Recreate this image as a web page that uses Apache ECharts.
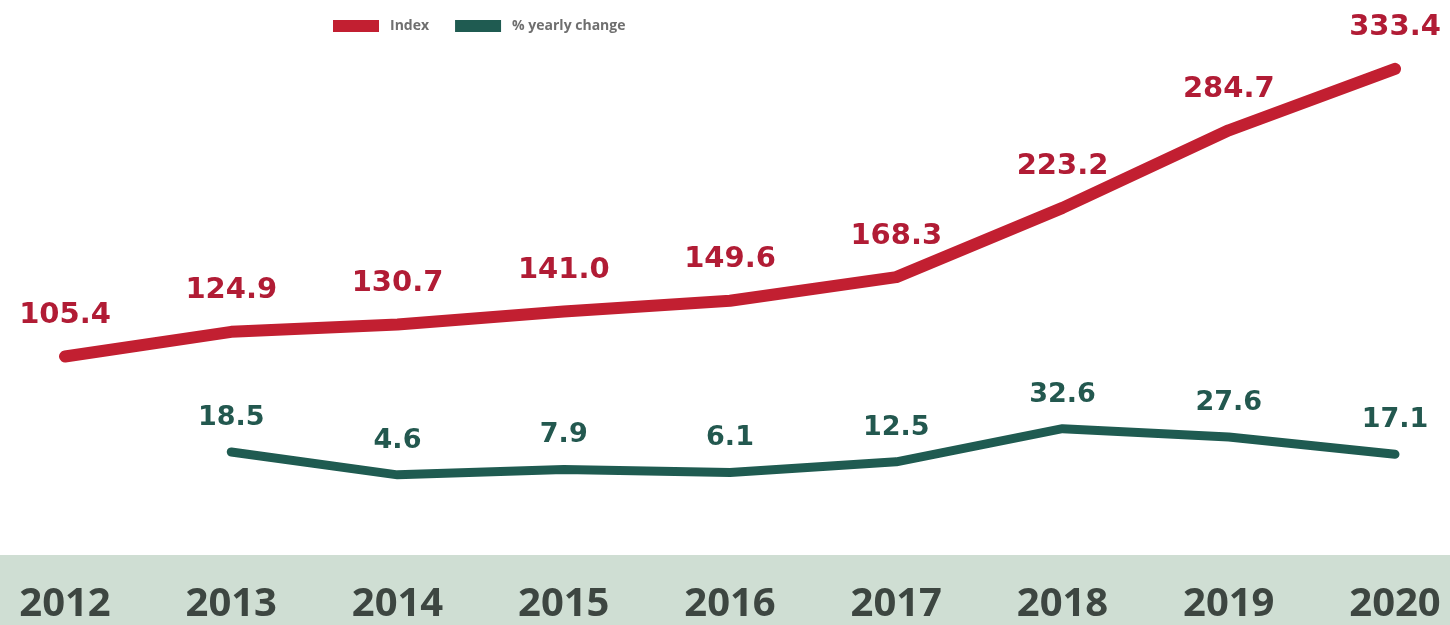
<!DOCTYPE html>
<html><head><meta charset="utf-8">
<script src="https://cdn.jsdelivr.net/npm/echarts@6/dist/echarts.min.js"></script>
<style>html,body{margin:0;padding:0;background:#fff}#c{width:1450px;height:625px}</style>
</head><body><div id="c"></div>
<script>
const years = ['2012','2013','2014','2015','2016','2017','2018','2019','2020'];
const indexValues = [105.4,124.9,130.7,141.0,149.6,168.3,223.2,284.7,333.4];
const yearlyChange = [null,18.5,4.6,7.9,6.1,12.5,32.6,27.6,17.1];

const chart = echarts.init(document.getElementById('c'));
chart.setOption({
  animation:false,
  backgroundColor:'#ffffff',
  graphic:[{type:'rect',left:0,top:555,shape:{width:1450,height:70},style:{fill:'#cfded3'},z:-10}],
  legend:{
    left:328, top:14, itemWidth:46, itemHeight:12, itemGap:26,
    icon:'rect',
    itemStyle:{borderWidth:0},
    lineStyle:{width:0},
    textStyle:{color:'#6f6f6f',fontSize:14,fontFamily:'Open Sans',fontWeight:'bold',padding:[0,0,0,6]},
    data:['Index','% yearly change']
  },
  grid:{left:65,right:55,top:0,bottom:70},
  xAxis:{
    type:'category', data:years, boundaryGap:false,
    axisLine:{show:false}, axisTick:{show:false}, splitLine:{show:false},
    axisLabel:{color:'#3d4641',fontSize:40,fontWeight:'bold',fontFamily:'Open Sans',margin:30}
  },
  yAxis:[
    {type:'value',min:-52,max:388,show:false,splitLine:{show:false}},
    {type:'value',min:-44,max:292.6,show:false,splitLine:{show:false}}
  ],
  series:[
    {name:'Index',type:'line',yAxisIndex:0,data:indexValues,symbol:'circle',symbolSize:1,showSymbol:true,legendIcon:'rect',
     itemStyle:{color:'#c21f31'},
     lineStyle:{color:'#c21f31',width:12,cap:'round',join:'round'},
     label:{show:true,position:'top',distance:26,color:'#b11c35',fontSize:29,fontWeight:'bold',fontFamily:'DejaVu Sans',
       formatter:p=>Number(p.value).toFixed(1)}},
    {name:'% yearly change',type:'line',yAxisIndex:1,data:yearlyChange,symbol:'circle',symbolSize:1,showSymbol:true,connectNulls:false,legendIcon:'rect',
     itemStyle:{color:'#1f5b51'},
     lineStyle:{color:'#1f5b51',width:9,cap:'round',join:'round'},
     label:{show:true,position:'top',distance:20,color:'#23584f',fontSize:27,fontWeight:'bold',fontFamily:'DejaVu Sans',
       formatter:p=>p.value==null?'':Number(p.value).toFixed(1)}}
  ]
});
</script></body></html>
